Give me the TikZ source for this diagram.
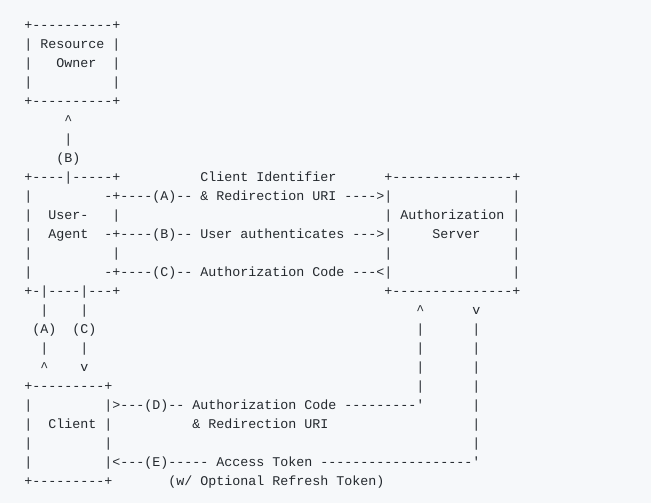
\documentclass[tikz,border=0pt]{standalone}
\usepackage{fontspec}
\setmonofont{Liberation Mono}
\usepackage{xcolor}
\usetikzlibrary{positioning}
\definecolor{ink}{HTML}{24292E}
\definecolor{paper}{HTML}{F6F8FA}
% n blank character cells of the mono font
\newcommand\colgap[1]{\hspace*{#1\fontdimen2\font}}

\begin{document}
\begin{tikzpicture}[
  x=0.75pt, y=-0.75pt,
  ascii/.style={font=\ttfamily, text=ink, anchor=base west, inner sep=0pt}
]
\fill[paper] (0,0) rectangle (651,503);
% Resource Owner box
\node[ascii] (r1) at (24, 29.3) {+----------+};
\node[ascii] (r2) at (24, 48.3) {| Resource |};
\node[ascii] (r3) at (24, 67.3) {|\colgap{3}Owner\colgap{2}|};
\node[ascii] (r4) at (24, 86.3) {|\colgap{10}|};
\node[ascii] (r5) at (24, 105.3) {+----------+};
% Step (B) up to the owner
\node[ascii] (r6) at (24, 124.3) {\colgap{5}\textasciicircum};
\node[ascii] (r7) at (24, 143.3) {\colgap{5}|};
\node[ascii] (r8) at (24, 162.3) {\colgap{4}(B)};
% User-Agent and Authorization Server
\node[ascii] (r9) at (24, 181.3) {+----|-----+\colgap{10}Client Identifier\colgap{6}+---------------+};
\node[ascii] (r10) at (24, 200.3) {|\colgap{9}-+----(A)-- \& Redirection URI ---->|\colgap{15}|};
\node[ascii] (r11) at (24, 219.3) {|\colgap{2}User-\colgap{3}|\colgap{33}| Authorization |};
\node[ascii] (r12) at (24, 238.3) {|\colgap{2}Agent\colgap{2}-+----(B)-- User authenticates --->|\colgap{5}Server\colgap{4}|};
\node[ascii] (r13) at (24, 257.3) {|\colgap{10}|\colgap{33}|\colgap{15}|};
\node[ascii] (r14) at (24, 276.3) {|\colgap{9}-+----(C)-- Authorization Code ---<|\colgap{15}|};
\node[ascii] (r15) at (24, 295.3) {+-|----|---+\colgap{33}+---------------+};
% Steps (A), (C) and the server's return lines
\node[ascii] (r16) at (24, 314.3) {\colgap{2}|\colgap{4}|\colgap{41}\textasciicircum\colgap{6}v};
\node[ascii] (r17) at (24, 333.3) {\colgap{1}(A)\colgap{2}(C)\colgap{40}|\colgap{6}|};
\node[ascii] (r18) at (24, 352.3) {\colgap{2}|\colgap{4}|\colgap{41}|\colgap{6}|};
\node[ascii] (r19) at (24, 371.3) {\colgap{2}\textasciicircum\colgap{4}v\colgap{41}|\colgap{6}|};
% Client box with steps (D) and (E)
\node[ascii] (r20) at (24, 390.3) {+---------+\colgap{38}|\colgap{6}|};
\node[ascii] (r21) at (24, 409.3) {|\colgap{9}|>---(D)-- Authorization Code ---------'\colgap{6}|};
\node[ascii] (r22) at (24, 428.3) {|\colgap{2}Client |\colgap{10}\& Redirection URI\colgap{18}|};
\node[ascii] (r23) at (24, 447.3) {|\colgap{9}|\colgap{45}|};
\node[ascii] (r24) at (24, 466.3) {|\colgap{9}|<---(E)----- Access Token -------------------'};
\node[ascii] (r25) at (24, 485.3) {+---------+\colgap{7}(w/ Optional Refresh Token)};
\end{tikzpicture}
\end{document}
